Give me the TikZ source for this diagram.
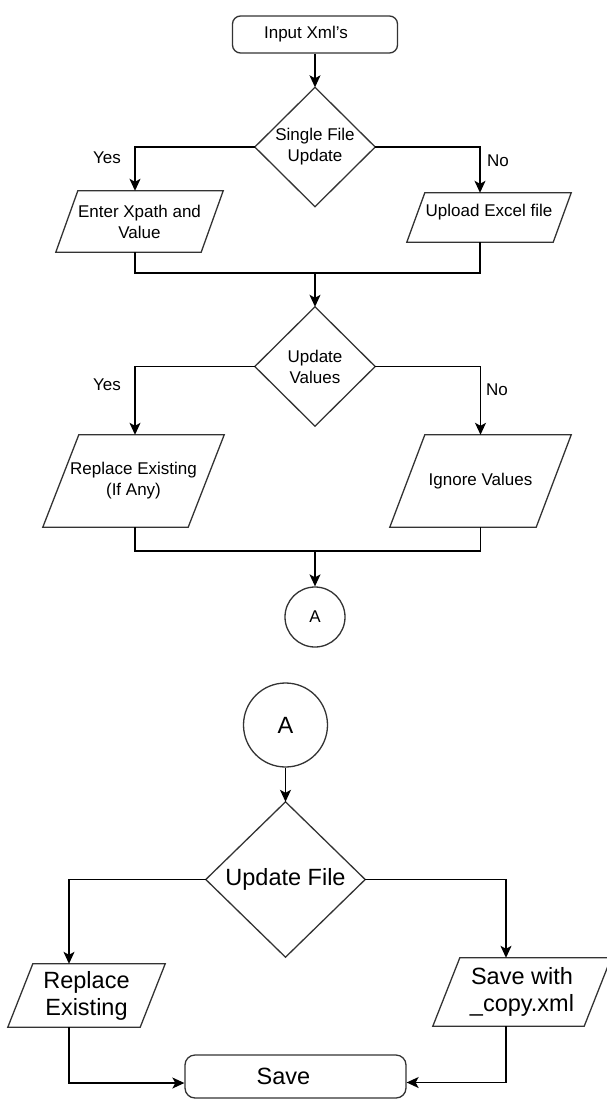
\documentclass[tikz,border=0pt]{standalone}
\usepackage{fontspec}
\setmainfont{Liberation Sans}
\usetikzlibrary{arrows.meta,calc}
\begin{document}
\begin{tikzpicture}[x=1pt,y=-1pt,
  outline/.style={draw=black!80, line width=1.3pt},
  conn/.style={draw=black, line width=1.3pt},
  arr/.style={conn, -{Stealth[length=12pt,width=11pt,inset=3pt]}},
  hold/.style={inner sep=0pt, align=center},
  sm/.style={font=\fontsize{17}{21}\selectfont},
  lg/.style={font=\fontsize{23.5}{27}\selectfont},
  lbl/.style={sm, inner sep=0pt}]
\useasboundingbox (0,0) rectangle (607,1100);

% ---- upper part ----
\node[hold, sm, outline, rounded corners=8pt, minimum width=165pt, minimum height=37pt] (start) at (315,34.5) {Input Xml's\hspace*{18pt}};
\node[hold, sm, minimum width=120pt, minimum height=119pt] (d1) at (315,147) {Single File\\Update};
\node[hold, sm, minimum width=167pt, minimum height=61pt] (p1) at (139.5,221.5) {Enter Xpath and\\Value};
\node[hold, sm, minimum width=164pt, minimum height=49pt, text height=12pt, text depth=15pt] (p2) at (489,217.5) {Upload Excel file};
\coordinate (j1) at (315,273);
\node[hold, sm, minimum width=120pt, minimum height=119pt] (d2) at (315,366.5) {Update\\Values};
\node[hold, sm, minimum width=181pt, minimum height=92pt] (p3) at (133.5,481) {Replace Existing\\(If Any)};
\node[hold, sm, minimum width=181pt, minimum height=92pt] (p4) at (480.5,481) {Ignore Values};
\coordinate (j2) at (315,551);
\node[hold, sm, outline, circle, minimum size=60pt] (c1) at (315,617) {A};

% ---- lower part ----
\node[hold, lg, outline, circle, minimum size=84pt] (c2) at (285.5,725) {A};
\node[hold, lg, minimum width=159pt, minimum height=155pt] (d3) at (285.5,879.5) {Update File};
\node[hold, lg, minimum width=157pt, minimum height=63pt] (p5) at (86.5,995.5) {Replace\\Existing};
\node[hold, lg, minimum width=178pt, minimum height=68pt] (p6) at (522,992) {Save with\\\_copy.xml};
\node[hold, lg, outline, rounded corners=10pt, minimum width=221pt, minimum height=43pt] (save) at (295.5,1076.5) {Save\hspace*{24pt}};

% outlines of diamonds and parallelograms
\foreach \n in {d1,d2,d3}
  \draw[outline] (\n.north) -- (\n.east) -- (\n.south) -- (\n.west) -- cycle;
\foreach \n/\s in {p1/22,p2/18,p3/36,p4/35,p5/25,p6/27}
  \draw[outline] ([xshift=\s pt]\n.north west) -- (\n.north east) -- ([xshift=-\s pt]\n.south east) -- (\n.south west) -- cycle;

% labels
\node[lbl] (yes1) at (107,158) {Yes};
\node[lbl] (no1) at (498,161) {No};
\node[lbl] (yes2) at (107,385) {Yes};
\node[lbl] (no2) at (497,390) {No};

% connectors
\draw[arr] (start.south) -- (d1.north);
\draw[arr] (d1.west) -| ([xshift=-4.5pt]p1.north);
\draw[arr] (d1.east) -| ([xshift=-9pt]p2.north);
\draw[conn] ([xshift=-4.5pt]p1.south) |- (j1);
\draw[conn] ([xshift=-9pt]p2.south) |- (j1);
\draw[arr] (j1) -- (d2.north);
\draw[arr] (d2.west) -| ([xshift=1.5pt]p3.north);
\draw[arr] (d2.east) -| (p4.north);
\draw[conn] ([xshift=1.5pt]p3.south) |- (j2);
\draw[conn] (p4.south) |- (j2);
\draw[arr] (j2) -- (c1.north);

\draw[arr] (c2.south) -- (d3.north);
\draw[arr] (d3.west) -| ([xshift=-17.5pt]p5.north);
\draw[arr] (d3.east) -| ([xshift=-16pt]p6.north);
\draw[arr] ([xshift=-17.5pt]p5.south) |- ([yshift=-6.5pt]save.west);
\draw[arr] ([xshift=-16pt]p6.south) |- ([yshift=-6pt]save.east);
\end{tikzpicture}
\end{document}
